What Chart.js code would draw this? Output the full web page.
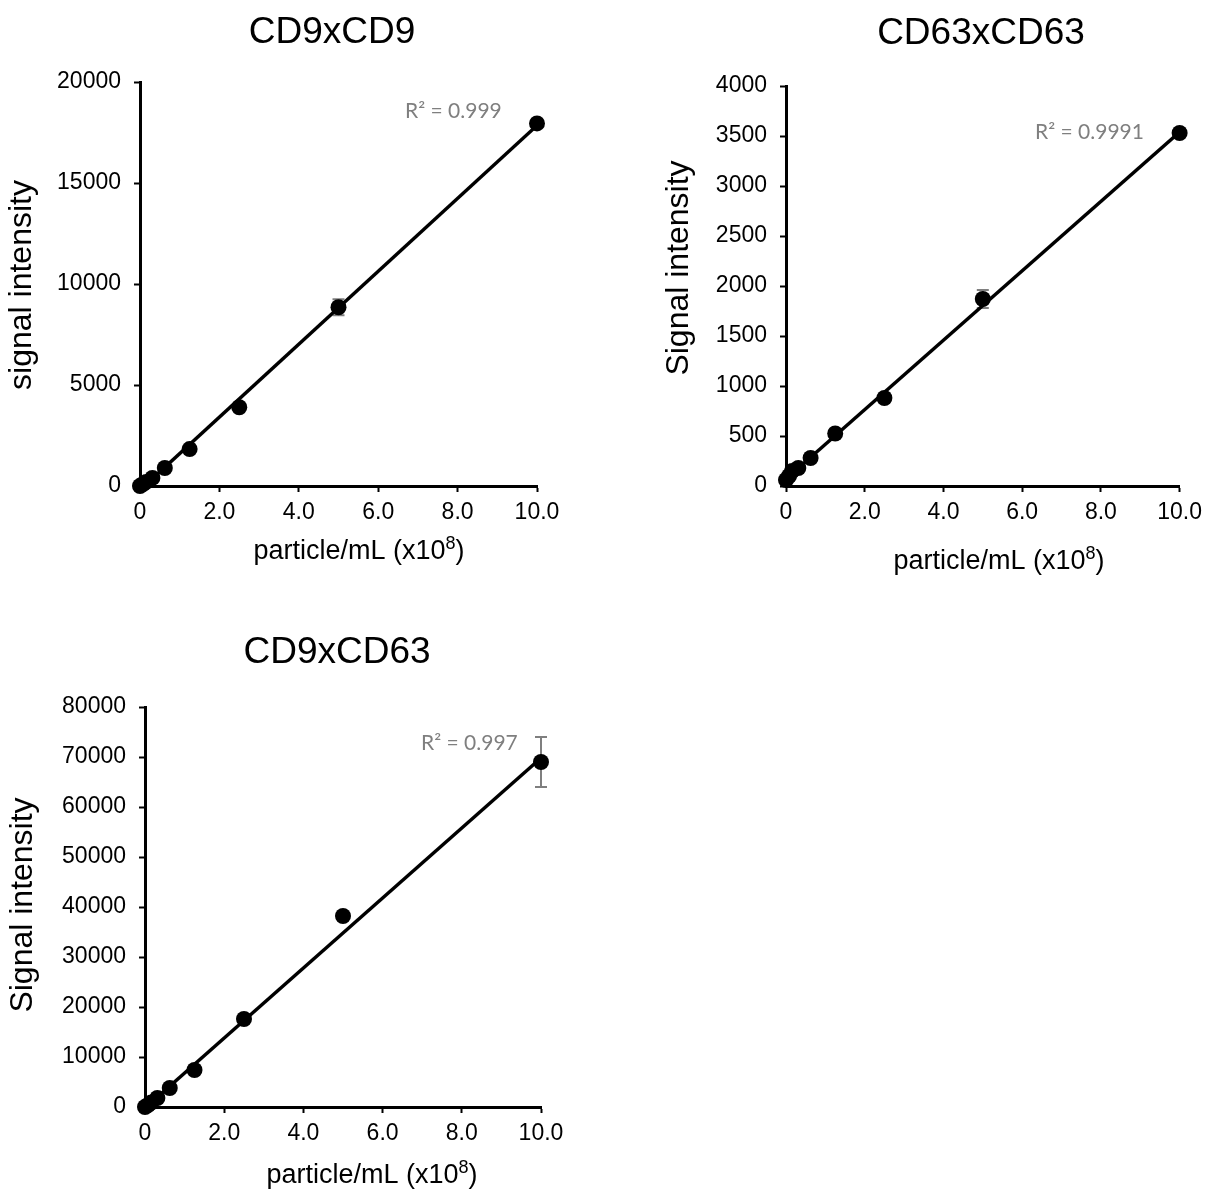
<!DOCTYPE html>
<html>
<head>
<meta charset="utf-8">
<script src="https://cdn.jsdelivr.net/npm/chart.js@4.4.1/dist/chart.umd.min.js"></script>
<style>
  html, body { margin: 0; padding: 0; background: #fff; }
  body { width: 1209px; height: 1191px; position: relative; overflow: hidden; }
  .panel { position: absolute; }
</style>
</head>
<body>
<div class="panel" style="left:0;top:0"><canvas id="cd9cd9" width="604" height="600"></canvas></div>
<div class="panel" style="left:604px;top:0"><canvas id="cd63cd63" width="605" height="600"></canvas></div>
<div class="panel" style="left:0;top:600px"><canvas id="cd9cd63" width="604" height="591"></canvas></div>
<script>
// dilution series, particle/mL (x10^8) - shared by all three assays
const particles = [0, 0.078, 0.156, 0.3125, 0.625, 1.25, 2.5, 5, 10];
const xTicks = [0, 2, 4, 6, 8, 10];

const cd9cd9Signal = [0, 100, 200, 400, 890, 1830, 3900, 8850, 17950];
const cd9cd9Error = [0, 0, 0, 0, 0, 0, 0, 400, 0];
const cd9cd9Fit = [-200, 17850]; // trendline at x = 0 and x = 10
const cd9cd9YTicks = [0, 5000, 10000, 15000, 20000];

const cd63cd63Signal = [60, 100, 150, 180, 280, 525, 880, 1870, 3530];
const cd63cd63Error = [0, 0, 0, 0, 0, 0, 0, 90, 0];
const cd63cd63Fit = [70, 3540];
const cd63cd63YTicks = [0, 500, 1000, 1500, 2000, 2500, 3000, 3500, 4000];

const cd9cd63Signal = [0, 400, 900, 1800, 3800, 7400, 17600, 38200, 69000];
const cd9cd63Error = [0, 0, 0, 0, 0, 0, 0, 0, 5000];
const cd9cd63Fit = [-200, 69800];
const cd9cd63YTicks = [0, 10000, 20000, 30000, 40000, 50000, 60000, 70000, 80000];

const FONT = '"Liberation Sans", Arial, sans-serif';

// gray whiskers behind the markers
const errorBars = {
  id: 'errorBars',
  beforeDatasetsDraw(chart, args, opts) {
    const { ctx, scales: { x, y } } = chart;
    const pts = chart.data.datasets[1].data;
    ctx.save();
    ctx.strokeStyle = '#7f7f7f';
    ctx.lineWidth = 2;
    pts.forEach((p, i) => {
      const e = opts.errors[i];
      if (!e) return;
      const px = x.getPixelForValue(p.x);
      const top = y.getPixelForValue(p.y + e);
      const bot = y.getPixelForValue(p.y - e);
      ctx.beginPath();
      ctx.moveTo(px, top); ctx.lineTo(px, bot);
      ctx.moveTo(px - 6, top); ctx.lineTo(px + 6, top);
      ctx.moveTo(px - 6, bot); ctx.lineTo(px + 6, bot);
      ctx.stroke();
    });
    ctx.restore();
  }
};

// chart title, axis titles (with superscript exponent) and the R² note
const panelText = {
  id: 'panelText',
  afterDraw(chart, args, o) {
    const ctx = chart.ctx;
    ctx.save();
    ctx.fillStyle = '#000';
    ctx.textBaseline = 'middle';

    ctx.font = `37px ${FONT}`;
    ctx.textAlign = 'center';
    ctx.fillText(o.title, o.titleAt[0], o.titleAt[1]);

    // x title: "particle/mL (x10" + raised 8 + ")"
    const main = 'particle/mL (x10', sup = '8', tail = ')';
    ctx.font = `27px ${FONT}`;
    const wMain = ctx.measureText(main).width, wTail = ctx.measureText(tail).width;
    ctx.font = `18px ${FONT}`;
    const wSup = ctx.measureText(sup).width;
    let cx = o.xTitleAt[0] - (wMain + wSup + wTail) / 2;
    const cy = o.xTitleAt[1];
    ctx.textAlign = 'left';
    ctx.font = `27px ${FONT}`;
    ctx.fillText(main, cx, cy);
    cx += wMain;
    ctx.font = `18px ${FONT}`;
    ctx.fillText(sup, cx, cy - 8);
    cx += wSup;
    ctx.font = `27px ${FONT}`;
    ctx.fillText(tail, cx, cy);

    ctx.save();
    ctx.translate(o.yTitleAt[0], o.yTitleAt[1]);
    ctx.rotate(-Math.PI / 2);
    ctx.textAlign = 'center';
    ctx.font = `32px ${FONT}`;
    ctx.fillText(o.yTitle, 0, 0);
    ctx.restore();

    ctx.fillStyle = '#7f7f7f';
    ctx.textAlign = 'left';
    ctx.font = '21px Lato, "Open Sans", sans-serif';
    ctx.fillText(o.r2, o.r2At[0], o.r2At[1]);
    ctx.restore();
  }
};

function axisStyle() {
  return {
    border: { color: '#000', width: 3 },
    grid: { drawOnChartArea: false, drawTicks: true, tickLength: 6, tickColor: '#000', tickWidth: 2 }
  };
}

function makePanel(id, p) {
  const W = document.getElementById(id).width;
  const H = document.getElementById(id).height;
  const yTicks = p.yTicks;
  return new Chart(document.getElementById(id), {
    type: 'scatter',
    data: {
      datasets: [
        {
          data: [{ x: 0, y: p.fit[0] }, { x: 10, y: p.fit[1] }],
          showLine: true,
          borderColor: '#000',
          borderWidth: 3.5,
          pointRadius: 0
        },
        {
          data: particles.map((x, i) => ({ x, y: p.signal[i] })),
          backgroundColor: '#000',
          borderWidth: 0,
          pointRadius: 8,
          clip: false
        }
      ]
    },
    options: {
      responsive: false,
      animation: false,
      devicePixelRatio: 1,
      layout: {
        padding: { left: 0, top: p.area.top, right: W - p.area.right, bottom: H - p.area.bottom - 60 }
      },
      plugins: {
        legend: { display: false },
        tooltip: { enabled: false },
        errorBars: { errors: p.error },
        panelText: p.text
      },
      scales: {
        x: {
          type: 'linear', min: 0, max: 10,
          ...axisStyle(),
          afterBuildTicks: s => { s.ticks = xTicks.map(v => ({ value: v })); },
          afterFit: s => { s.height = 60; },
          ticks: {
            color: '#000', padding: 7,
            font: { family: FONT, size: 23 },
            callback: v => (v === 0 ? '0' : v.toFixed(1))
          }
        },
        y: {
          type: 'linear', min: 0, max: yTicks[yTicks.length - 1],
          ...axisStyle(),
          afterBuildTicks: s => { s.ticks = yTicks.map(v => ({ value: v })); },
          afterFit: s => { s.width = p.area.left; },
          ticks: {
            color: '#000', padding: 13,
            font: { family: FONT, size: 23 },
            callback: v => String(v)
          }
        }
      }
    },
    plugins: [errorBars, panelText]
  });
}

makePanel('cd9cd9', {
  signal: cd9cd9Signal, error: cd9cd9Error, fit: cd9cd9Fit, yTicks: cd9cd9YTicks,
  area: { left: 140, top: 82, right: 537, bottom: 486 },
  text: { title: 'CD9xCD9', titleAt: [332, 33], xTitleAt: [359, 552], yTitle: 'signal intensity', yTitleAt: [22, 285], r2: 'R² = 0.999', r2At: [405, 111] }
});

makePanel('cd63cd63', {
  signal: cd63cd63Signal, error: cd63cd63Error, fit: cd63cd63Fit, yTicks: cd63cd63YTicks,
  area: { left: 182, top: 86, right: 577, bottom: 486 },
  text: { title: 'CD63xCD63', titleAt: [377, 34], xTitleAt: [395, 562], yTitle: 'Signal intensity', yTitleAt: [75, 268], r2: 'R² = 0.9991', r2At: [431, 132] }
});

makePanel('cd9cd63', {
  signal: cd9cd63Signal, error: cd9cd63Error, fit: cd9cd63Fit, yTicks: cd9cd63YTicks,
  area: { left: 145, top: 107, right: 541, bottom: 507 },
  text: { title: 'CD9xCD63', titleAt: [337, 53], xTitleAt: [372, 576], yTitle: 'Signal intensity', yTitleAt: [23, 305], r2: 'R² = 0.997', r2At: [421, 143] }
});
</script>
</body>
</html>
